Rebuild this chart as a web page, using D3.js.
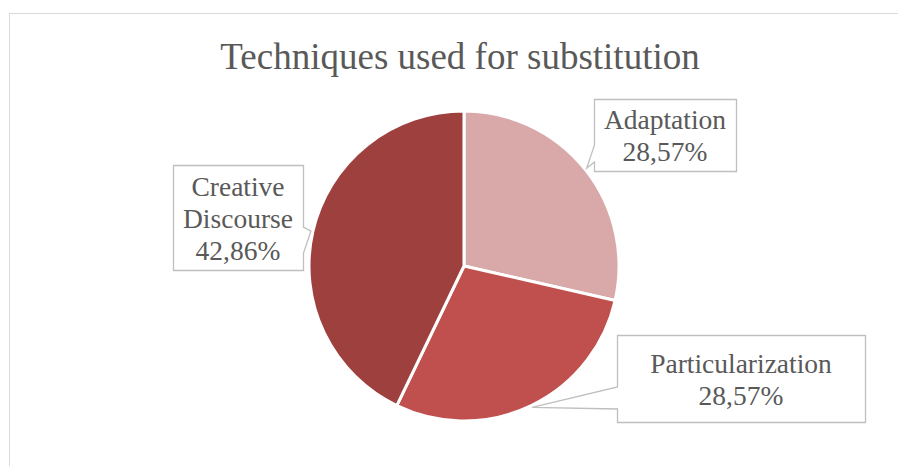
<!DOCTYPE html>
<html>
<head>
  <meta charset="utf-8">
  <script src="https://d3js.org/d3.v7.min.js"></script>
  <style>
    body { margin: 0; background: #fff; }
    text { font-family: "Liberation Serif", "Times New Roman", serif; fill: #595959; }
  </style>
</head>
<body>
<script>
  // chart data
  var categories = ["Adaptation", "Particularization", "Creative Discourse"];
  var values = [28.57, 28.57, 42.86];
  var colors = ["#D9A9A9", "#C0504D", "#9E413E"];

  // label box layout: box rect, which side the tail leaves from, tail base on that side
  var boxes = [
    { x: 594, y: 99,  w: 142, h: 72,  lines: ["Adaptation"], side: "left",  t0: 145, t1: 162 },
    { x: 617, y: 335, w: 248, h: 87,  lines: ["Particularization"], side: "left",  t0: 387, t1: 409 },
    { x: 173, y: 165, w: 130, h: 105, lines: ["Creative", "Discourse"], side: "right", t0: 227, t1: 253 }
  ];

  var width = 898, height = 466;
  var cx = 464, cy = 266, radius = 155;

  var svg = d3.select("body").append("svg")
      .attr("width", width)
      .attr("height", height);

  // outer chart frame
  svg.append("rect")
      .attr("x", 9.5).attr("y", 13.5)
      .attr("width", 920).attr("height", 500)
      .attr("fill", "#fff")
      .attr("stroke", "#d9d9d9");

  svg.append("text")
      .attr("x", 460).attr("y", 69)
      .attr("text-anchor", "middle")
      .style("font-size", "37px")
      .text("Techniques used for substitution");

  var pie = d3.pie().sort(null).value(function (d) { return d; });
  var arcs = pie(values);
  var arc = d3.arc().innerRadius(0).outerRadius(radius);

  var g = svg.append("g").attr("transform", "translate(" + cx + "," + cy + ")");
  g.selectAll("path")
      .data(arcs)
      .enter()
      .append("path")
      .attr("d", arc)
      .attr("fill", function (d, i) { return colors[i]; })
      .attr("stroke", "#fff")
      .attr("stroke-width", 3)
      .attr("stroke-linejoin", "round");

  // callouts
  var fmt = function (v) { return v.toFixed(2).replace(".", ",") + "%"; };
  arcs.forEach(function (a, i) {
    var b = boxes[i];
    var mid = (a.startAngle + a.endAngle) / 2;
    var tx = cx + Math.sin(mid) * (radius + 2);
    var ty = cy - Math.cos(mid) * (radius + 2);
    var x0 = b.x + 0.5, y0 = b.y + 0.5, x1 = b.x + b.w + 0.5, y1 = b.y + b.h + 0.5;
    var p = d3.path();
    if (b.side === "left") {
      p.moveTo(x0, y0); p.lineTo(x1, y0); p.lineTo(x1, y1); p.lineTo(x0, y1);
      p.lineTo(x0, b.t1); p.lineTo(tx, ty); p.lineTo(x0, b.t0); p.closePath();
    } else {
      p.moveTo(x0, y0); p.lineTo(x1, y0); p.lineTo(x1, b.t0); p.lineTo(tx, ty);
      p.lineTo(x1, b.t1); p.lineTo(x1, y1); p.lineTo(x0, y1); p.closePath();
    }
    svg.append("path")
        .attr("d", p.toString())
        .attr("fill", "#fff")
        .attr("stroke", "#bfbfbf")
        .attr("stroke-width", 1.3);

    var lines = b.lines.concat([fmt(values[i])]);
    var lh = 32;
    var firstBase = b.y + b.h / 2 - (lines.length - 1) * lh / 2 + 10;
    var t = svg.append("text")
        .attr("text-anchor", "middle")
        .style("font-size", "27.5px");
    lines.forEach(function (l, k) {
      t.append("tspan")
          .attr("x", b.x + b.w / 2)
          .attr("y", firstBase + k * lh)
          .text(l);
    });
  });
</script>
</body>
</html>
